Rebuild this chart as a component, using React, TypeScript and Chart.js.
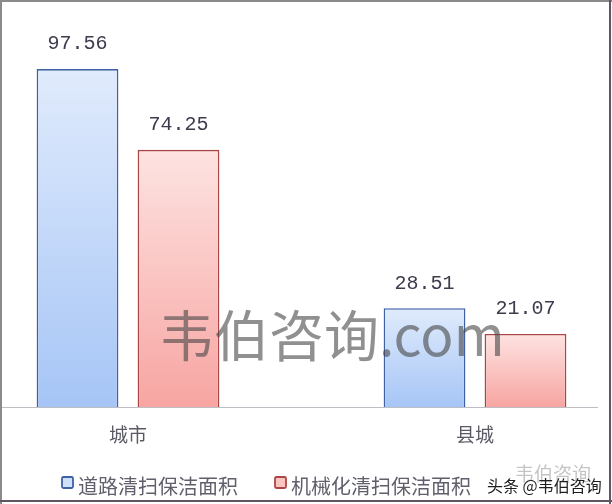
import React, { useEffect, useRef } from "react";
import { Chart, registerables } from "chart.js";

Chart.register(...registerables);

const categories = ["城市", "县城"];
const seriesNames = ["道路清扫保洁面积", "机械化清扫保洁面积"];
const roadArea = [97.56, 28.51];
const mechanizedArea = [74.25, 21.07];
const yMax = 110;

const cjkFont = "'Noto Sans CJK SC', 'Noto Sans', sans-serif";

const palette = [
  { top: "#e0ebfc", bottom: "#a6c5f6", border: "#3f62a6", box: "#cfe0fa" },
  { top: "#fde3e1", bottom: "#f7a5a2", border: "#ac4646", box: "#f9c4c2" },
];

const barFill = (idx: number) => (ctx: any) => {
  const p = palette[idx];
  const chart = ctx.chart;
  const y = chart.scales?.y;
  if (ctx.type !== "data" || !y || !chart.chartArea) return p.bottom;
  const top = y.getPixelForValue(ctx.raw as number);
  const bottom = y.getPixelForValue(0);
  if (!isFinite(top) || !isFinite(bottom) || top === bottom) return p.bottom;
  const g = chart.ctx.createLinearGradient(0, top, 0, bottom);
  g.addColorStop(0, p.top);
  g.addColorStop(1, p.bottom);
  return g;
};

const decorations = {
  id: "decorations",
  afterDraw(chart: Chart) {
    const { ctx } = chart;
    const y = chart.scales.y;
    const zero = y.getPixelForValue(0);
    ctx.save();

    // baseline across the whole picture
    ctx.strokeStyle = "#bdbdc3";
    ctx.lineWidth = 1;
    ctx.beginPath();
    ctx.moveTo(0, Math.round(zero) + 0.5);
    ctx.lineTo(598, Math.round(zero) + 0.5);
    ctx.stroke();

    // value labels
    ctx.font = "20px 'Liberation Mono', 'DejaVu Sans Mono', monospace";
    ctx.fillStyle = "#3c3c4e";
    ctx.textAlign = "center";
    ctx.textBaseline = "middle";
    chart.data.datasets.forEach((ds, i) => {
      chart.getDatasetMeta(i).data.forEach((bar: any, j) => {
        const v = ds.data[j] as number;
        ctx.fillText(v.toFixed(2), bar.x, bar.y - 25);
      });
    });

    // legend
    ctx.font = `20px ${cjkFont}`;
    ctx.textAlign = "left";
    let lx = 62;
    chart.data.datasets.forEach((ds, i) => {
      const p = palette[i];
      ctx.fillStyle = p.box;
      ctx.strokeStyle = p.border;
      ctx.lineWidth = 1.8;
      ctx.beginPath();
      ctx.roundRect(lx, 477, 11, 11, 1.5);
      ctx.fill();
      ctx.stroke();
      ctx.fillStyle = "#60606c";
      ctx.fillText(String(ds.label), lx + 16, 486);
      lx += 16 + ctx.measureText(String(ds.label)).width + 37;
    });

    // watermarks
    ctx.font = `55px ${cjkFont}`;
    ctx.fillStyle = "rgba(70, 70, 70, 0.6)";
    ctx.fillText("韦伯咨询.com", 159, 335);

    ctx.font = `19px ${cjkFont}`;
    ctx.fillStyle = "rgba(60, 60, 60, 0.3)";
    ctx.fillText("韦伯咨询", 515, 474);
    ctx.font = `16px ${cjkFont}`;
    ctx.fillStyle = "#1e1e1e";
    ctx.fillText("头条 @韦伯咨询", 487, 486);

    // frame
    ctx.lineWidth = 2;
    ctx.strokeStyle = "#8a8a8a";
    ctx.beginPath();
    ctx.moveTo(0, 1);
    ctx.lineTo(612, 1);
    ctx.moveTo(1, 0);
    ctx.lineTo(1, 504);
    ctx.stroke();
    ctx.strokeStyle = "#5e5660";
    ctx.beginPath();
    ctx.moveTo(610, 0);
    ctx.lineTo(610, 504);
    ctx.moveTo(0, 501);
    ctx.lineTo(612, 501);
    ctx.stroke();

    ctx.restore();
  },
};

const App: React.FC = () => {
  const canvasRef = useRef<HTMLCanvasElement | null>(null);

  useEffect(() => {
    if (!canvasRef.current) return;
    const chart = new Chart(canvasRef.current, {
      type: "bar",
      data: {
        labels: categories,
        datasets: [
          {
            label: seriesNames[0],
            data: roadArea,
            backgroundColor: barFill(0),
            borderColor: palette[0].border,
            borderWidth: 1.6,
            clip: false,
          },
          {
            label: seriesNames[1],
            data: mechanizedArea,
            backgroundColor: barFill(1),
            borderColor: palette[1].border,
            borderWidth: 1.6,
            clip: false,
          },
        ],
      },
      options: {
        responsive: true,
        maintainAspectRatio: false,
        animation: false,
        datasets: {
          bar: { categoryPercentage: 0.582, barPercentage: 0.81 },
        },
        layout: { padding: { left: 128, right: 137, top: 26, bottom: 37 } },
        plugins: {
          legend: { display: false },
          tooltip: { enabled: false },
        },
        scales: {
          x: {
            offset: false,
            grid: { display: false, drawTicks: false },
            border: { display: false },
            ticks: {
              padding: 16,
              color: "#5a5a64",
              font: { family: cjkFont, size: 19 },
            },
            afterFit: (s: any) => {
              s.height = 60;
            },
          },
          y: { display: false, min: 0, max: yMax },
        },
      },
      plugins: [decorations],
    });
    return () => chart.destroy();
  }, []);

  return (
    <div
      style={{
        position: "absolute",
        left: 0,
        top: 0,
        width: 612,
        height: 504,
        background: "#ffffff",
      }}
    >
      <canvas ref={canvasRef}></canvas>
    </div>
  );
};

export default App;
